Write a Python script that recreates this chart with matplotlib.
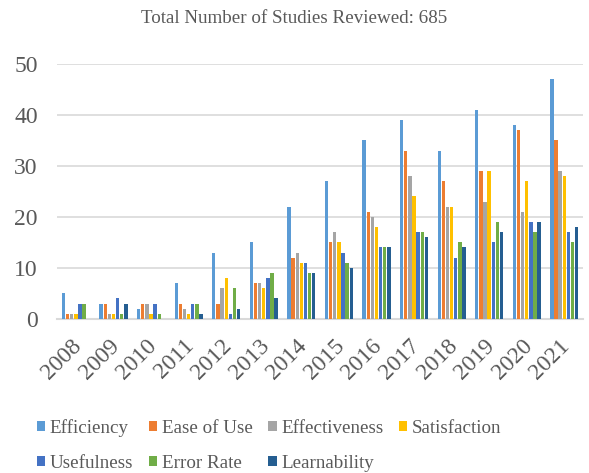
import matplotlib.pyplot as plt
import matplotlib.transforms as mtransforms
from matplotlib.patches import Patch
import numpy as np

years = ['2008', '2009', '2010', '2011', '2012', '2013', '2014',
         '2015', '2016', '2017', '2018', '2019', '2020', '2021']
series = ['Efficiency', 'Ease of Use', 'Effectiveness', 'Satisfaction',
          'Usefulness', 'Error Rate', 'Learnability']
efficiency = [5, 3, 2, 7, 13, 15, 22, 27, 35, 39, 33, 41, 38, 47]
ease_of_use = [1, 3, 3, 3, 3, 7, 12, 15, 21, 33, 27, 29, 37, 35]
effectiveness = [1, 1, 3, 2, 6, 7, 13, 17, 20, 28, 22, 23, 21, 29]
satisfaction = [1, 1, 1, 1, 8, 6, 11, 15, 18, 24, 22, 29, 27, 28]
usefulness = [3, 4, 3, 3, 1, 8, 11, 13, 14, 17, 12, 15, 19, 17]
error_rate = [3, 1, 1, 3, 6, 9, 9, 11, 14, 17, 15, 19, 17, 15]
learnability = [0, 3, 0, 1, 2, 4, 9, 10, 14, 16, 14, 17, 19, 18]
values = [efficiency, ease_of_use, effectiveness, satisfaction,
          usefulness, error_rate, learnability]
colors = ['#5B9BD5', '#ED7D31', '#A5A5A5', '#FFC000',
          '#4472C4', '#70AD47', '#255E91']

plt.rcParams['font.family'] = ['Liberation Serif', 'DejaVu Serif']
txt = '#595959'

fig = plt.figure(figsize=(5.89, 4.73), dpi=100)
ax = fig.add_axes([0.097, 0.326, 0.893, 0.539])

x = np.arange(len(years))
slot = 0.11
for i, (name, vals) in enumerate(zip(series, values)):
    ax.bar(x + (i - 3) * slot, vals, width=slot * 0.82, color=colors[i],
           label=name, zorder=3)

ax.set_xlim(-0.5, len(years) - 0.5)
ax.set_ylim(0, 50)
ax.set_yticks(range(0, 51, 10))
ax.set_xticks(x)
ax.set_xticklabels(years, rotation=45, ha='right', rotation_mode='anchor')
ax.tick_params(axis='both', length=0, labelsize=17, colors=txt)
ax.tick_params(axis='x', pad=4)
ax.tick_params(axis='y', pad=14)
# nudge the year labels down/left like the original
shift = mtransforms.ScaledTranslation(-5 / 100, -11 / 100, fig.dpi_scale_trans)
for lab in ax.get_xticklabels():
    lab.set_transform(lab.get_transform() + shift)
ax.grid(axis='y', color='#D9D9D9', linewidth=1.2, zorder=0)
for s in ['top', 'right', 'left']:
    ax.spines[s].set_visible(False)
ax.spines['bottom'].set_color('#D9D9D9')
ax.spines['bottom'].set_linewidth(1.5)

fig.text(0.5, 0.961, 'Total Number of Studies Reviewed: 685', ha='center',
         va='center', fontsize=13.7, color=txt)

# matplotlib fills legend columns first, reorder so rows read across
order = [0, 4, 1, 5, 2, 6, 3]
proxies = [Patch(facecolor=colors[k], edgecolor='none') for k in order]
leg = fig.legend(proxies, [series[k] for k in order],
                 loc='lower left', bbox_to_anchor=(0.033, -0.034),
                 ncol=4, frameon=False, fontsize=13.7, handlelength=0.45,
                 handleheight=0.45, handletextpad=0.25, columnspacing=0.8,
                 labelspacing=0.95)
for t in leg.get_texts():
    t.set_color(txt)

fig.savefig('out.png', dpi=100)
